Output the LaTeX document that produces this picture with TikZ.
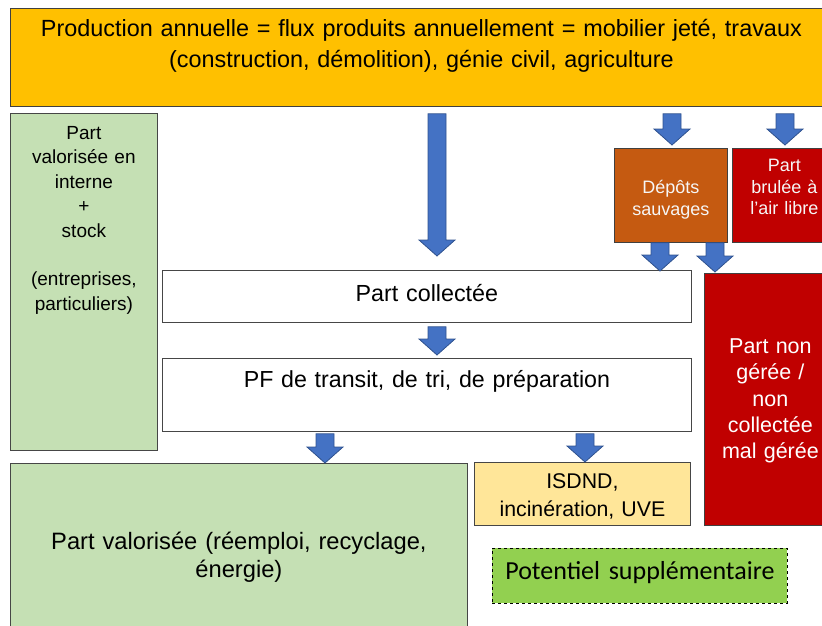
\documentclass[tikz,border=0pt]{standalone}
\usepackage{fontspec}
\setmainfont{Liberation Sans}
\newfontfamily\calibri{Carlito}
\usetikzlibrary{calc}

\definecolor{jaune}{HTML}{FFC000}
\definecolor{vertclair}{HTML}{C5E0B4}
\definecolor{vertvif}{HTML}{92D050}
\definecolor{jaunepale}{HTML}{FFE699}
\definecolor{brique}{HTML}{C55A11}
\definecolor{rouge}{HTML}{C00000}
\definecolor{bleu}{HTML}{4472C4}
\definecolor{bleufonce}{HTML}{2F528F}

\tikzset{
  boite/.style={draw=gray!55!black, line width=0.8pt, rectangle,
    inner sep=0pt, anchor=north west, align=center},
  fleche/.style={fill=bleu, draw=bleufonce, line width=0.8pt}
}

% fleche epaisse : abscisse, depart, arrivee
\newcommand{\fleche}[3]{%
  \filldraw[fleche] let \p1=(#2), \p2=(#3) in
    (#1pt-9pt,\y1) -- (#1pt+9pt,\y1) -- (#1pt+9pt,\y2+16pt)
    -- (#1pt+18pt,\y2+16pt) -- (#1pt,\y2) -- (#1pt-18pt,\y2+16pt)
    -- (#1pt-9pt,\y2+16pt) -- cycle;}

\begin{document}
\begin{tikzpicture}[x=1pt, y=-1pt]
  \useasboundingbox (0,0) rectangle (822,625);

  \node[boite, draw=black!75, fill=jaune, text width=822pt,
    text height=28pt, text depth=70pt, font=\fontsize{23.4}{31}\selectfont]
    (prod) at (10,8)
    {Production annuelle = flux produits annuellement = mobilier jeté, travaux\\
     (construction, démolition), génie civil, agriculture};

  \node[boite, fill=vertclair, text width=147pt,
    text height=26pt, text depth=311pt, font=\fontsize{19}{24.4}\selectfont]
    (interne) at (10,113)
    {Part\\valorisée en\\interne\\+\\stock\\[24.4pt]
     (entreprises,\\particuliers)};

  \node[boite, draw=black!75, fill=brique, text=white!93!gray, text width=113pt,
    text height=45.5pt, text depth=48.5pt, font=\fontsize{18}{21.5}\selectfont]
    (depots) at (614,148) {Dépôts\\sauvages};

  \node[boite, draw=black!75, fill=rouge, text=white!93!gray, text width=104pt,
    text height=23.5pt, text depth=70.5pt, font=\fontsize{18}{21.5}\selectfont]
    (brulee) at (732,148) {Part\\brulée à\\l’air libre};

  \node[boite, fill=white, text width=529pt,
    text height=31pt, text depth=21pt, font=\fontsize{23.3}{28}\selectfont]
    (collecte) at (162,270) {Part collectée};

  \node[boite, draw=black!75, fill=rouge, text=white, text width=132pt,
    text height=80pt, text depth=172pt, font=\fontsize{21.5}{26.3}\selectfont]
    (nongeree) at (704,273)
    {Part non\\gérée /\\non\\collectée\\mal gérée};

  \node[boite, fill=white, text width=529pt,
    text height=29pt, text depth=44pt, font=\fontsize{23.2}{28}\selectfont]
    (pf) at (162,358) {PF de transit, de tri, de préparation};

  \node[boite, fill=vertclair, text width=457pt,
    text height=86pt, text depth=91pt, font=\fontsize{23.7}{28}\selectfont]
    (valorisee) at (10,463)
    {Part valorisée (réemploi, recyclage,\\énergie)};

  \node[boite, fill=jaunepale, text width=216pt,
    text height=26pt, text depth=37pt, font=\fontsize{21.3}{28}\selectfont]
    (isdnd) at (474,462) {ISDND,\\incinération, UVE};

  \node[boite, draw=black, dashed, fill=vertvif, text width=295pt,
    text height=31.5pt, text depth=23.5pt, font=\calibri\fontsize{26}{30}\selectfont]
    (potentiel) at (492,548) {Potentiel supplémentaire};

  \fleche{437}{[yshift=-7pt]prod.south}{[yshift=14pt]collecte.north}
  \fleche{672}{[yshift=-7pt]prod.south}{[yshift=3pt]depots.north}
  \fleche{785}{[yshift=-7pt]prod.south}{[yshift=3pt]brulee.north}
  \fleche{660}{depots.south}{[yshift=-1pt]collecte.north}
  \fleche{715}{depots.south}{[yshift=1pt]nongeree.north}
  \fleche{437}{[yshift=-4pt]collecte.south}{[yshift=3pt]pf.north}
  \fleche{325}{[yshift=-2pt]pf.south}{valorisee.north}
  \fleche{585}{[yshift=-2pt]pf.south}{isdnd.north}
\end{tikzpicture}
\end{document}
